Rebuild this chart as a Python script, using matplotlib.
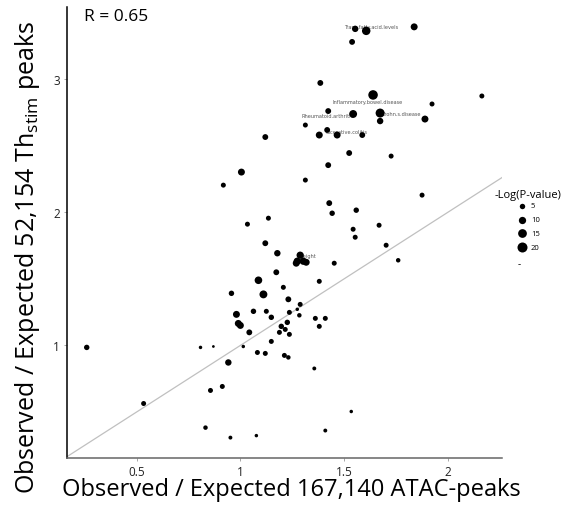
import matplotlib
matplotlib.use("Agg")
import matplotlib.pyplot as plt

'''
Observed / expected enrichment of trait SNPs: ATAC peaks vs Th stim peaks.
Point size is -log10(P-value).
'''

plt.rcParams["font.family"] = ["Open Sans", "DejaVu Sans"]
plt.rcParams["mathtext.fontset"] = "custom"
plt.rcParams["mathtext.rm"] = "Open Sans"
plt.rcParams["mathtext.it"] = "Open Sans:italic"

# Observed / expected in ATAC peaks (x) and Th stim peaks (y)
atac_oe = [1.553, 1.606, 1.837, 1.538, 1.385, 1.639, 2.163, 1.923, 1.423, 1.543,
           1.673, 1.673, 1.889, 1.313, 1.418, 1.380, 1.466, 1.587, 1.120, 1.524,
           1.726, 1.005, 0.918, 1.423, 1.313, 1.875, 1.428, 1.442, 1.558, 1.135,
           1.034, 1.543, 1.668, 1.553, 1.702, 1.760, 1.120, 1.178, 1.288, 1.274,
           1.303, 1.269, 1.317, 1.452, 1.380, 1.207, 1.173, 1.087, 1.111, 0.957,
           1.231, 1.288, 0.981, 1.063, 1.125, 1.149, 1.236, 1.274, 1.284, 0.990,
           1.000, 1.226, 1.361, 1.409, 1.380, 1.197, 1.216, 1.188, 1.236, 1.043,
           1.149, 0.260, 0.808, 0.870, 1.014, 1.082, 1.120, 1.212, 1.231, 0.942,
           1.356, 0.856, 0.913, 0.534, 0.832, 0.952, 1.077, 1.534, 1.409]
thstim_oe = [3.376, 3.361, 3.391, 3.278, 2.970, 2.880, 2.872, 2.812, 2.759, 2.737,
             2.744, 2.684, 2.699, 2.654, 2.617, 2.579, 2.579, 2.579, 2.564, 2.444,
             2.421, 2.301, 2.203, 2.353, 2.241, 2.128, 2.068, 1.992, 2.015, 1.955,
             1.910, 1.872, 1.902, 1.812, 1.752, 1.639, 1.767, 1.692, 1.677, 1.632,
             1.632, 1.617, 1.624, 1.617, 1.481, 1.436, 1.549, 1.489, 1.383, 1.391,
             1.346, 1.308, 1.233, 1.256, 1.256, 1.211, 1.248, 1.271, 1.226, 1.165,
             1.150, 1.173, 1.203, 1.203, 1.143, 1.143, 1.120, 1.098, 1.083, 1.098,
             1.030, 0.985, 0.985, 0.992, 0.992, 0.947, 0.940, 0.925, 0.910, 0.872,
             0.827, 0.662, 0.692, 0.564, 0.383, 0.308, 0.323, 0.504, 0.361]
neg_log_p = [7.5, 14, 9, 6, 6, 18, 4, 4, 6, 12,
             16, 7.5, 9, 4, 6, 9, 9, 6, 6, 6,
             4, 9, 4, 6, 4, 4, 6, 5, 5, 4,
             4, 4, 4, 4, 4, 3, 6, 7.5, 10, 10,
             10, 9, 9, 4, 4, 4, 6, 11, 12, 5,
             6, 4, 9, 5, 4, 5, 4, 1.3, 3, 9,
             9, 5, 4, 4, 4, 5, 4, 4, 4, 6,
             4, 5, 1.3, 0.3, 1.3, 4, 4, 4, 3, 7.5,
             2, 4, 4, 4, 3, 2, 1.3, 1.3, 2]

# trait labels
label_text = ["Trans.fatty.acid.levels", "Inflammatory.bowel.disease",
              "Rheumatoid.arthritis", "Crohn.s.disease", "Ulcerative.colitis",
              "Height"]
label_x = [1.63, 1.611, 1.421, 1.776, 1.510, 1.325]
label_y = [3.39, 2.827, 2.722, 2.744, 2.609, 1.677]

legend_vals = [5, 10, 15, 20]
r_text = "R = 0.65"


def point_size(v):
    # area grows linearly with -log(P)
    return 3.1 + 2.44 * v


def main():
    fig = plt.figure(figsize=(5.65, 5.1), dpi=100)
    ax = fig.add_axes([67 / 565, 1 - 459 / 510, 435 / 565, 451 / 510])

    ax.set_xlim(0.165, 2.26)
    ax.set_ylim(0.155, 3.54)

    # y = x reference line
    ax.plot([0, 3], [0, 3], color="#c0c0c0", lw=0.9, zorder=1)

    for t, x, y in zip(label_text, label_x, label_y):
        ax.text(x, y, t, fontsize=3.6, color="#555555", ha="center",
                va="center", zorder=2, family="DejaVu Sans")

    ax.scatter(atac_oe, thstim_oe, s=[point_size(v) for v in neg_log_p],
               color="black", linewidths=0, zorder=3)

    ax.text(0.245, 3.47, r_text, fontsize=12.5, ha="left", va="center")

    ax.spines["top"].set_visible(False)
    ax.spines["right"].set_visible(False)
    ax.spines["left"].set_color("black")
    ax.spines["left"].set_linewidth(1.1)
    ax.spines["bottom"].set_color("#666666")
    ax.spines["bottom"].set_linewidth(1.1)

    ax.set_xticks([0.5, 1, 1.5, 2])
    ax.set_xticklabels(["0.5", "1", "1.5", "2"])
    ax.set_yticks([1, 2, 3])
    ax.set_yticklabels(["1", "2", "3"])
    ax.tick_params(length=2, width=0.6, color="#999999", labelsize=8.5,
                   labelcolor="#222222", pad=3)

    fig.text(291 / 565, 1 - 490 / 510,
             "Observed / Expected 167,140 ATAC-peaks",
             fontsize=17, ha="center", va="center")
    fig.text(28 / 565, 1 - 257 / 510,
             r"Observed / Expected 52,154 Th$_{\mathrm{stim}}$ peaks",
             fontsize=18, ha="center", va="center", rotation=90)

    # size legend
    fig.text(528 / 565, 1 - 196 / 510, "-Log(P-value)", fontsize=8,
             ha="center", va="center")
    for i, v in enumerate(legend_vals):
        yy = 1 - (207 + i * 13.7) / 510
        ax.scatter([522 / 565], [yy], s=point_size(v), color="black",
                   linewidths=0, transform=fig.transFigure, clip_on=False)
        fig.text(531 / 565, yy, str(v), fontsize=5.5, ha="left",
                 va="center")
    fig.text(519 / 565, 1 - 265 / 510, "-", fontsize=7, ha="center",
             va="center")

    fig.savefig("out.png", dpi=100)
    plt.close()


if __name__ == "__main__":
    main()
